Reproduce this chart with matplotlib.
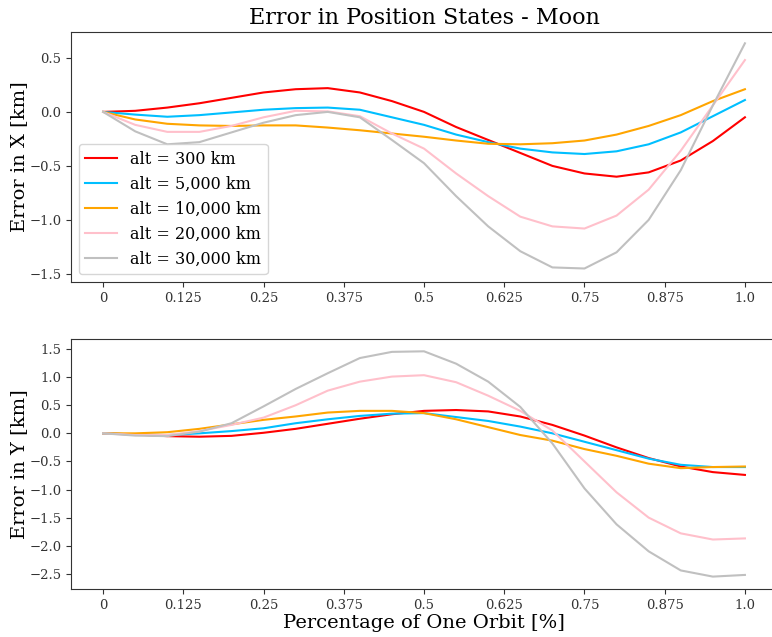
import numpy as np
import matplotlib
matplotlib.use('Agg')
import matplotlib.pyplot as plt

plt.rcParams['font.family'] = 'DejaVu Serif'

# fraction of one orbit
pct = [0, 0.05, 0.1, 0.15, 0.2, 0.25, 0.3, 0.35, 0.4, 0.45, 0.5,
       0.55, 0.6, 0.65, 0.7, 0.75, 0.8, 0.85, 0.9, 0.95, 1.0]

labels = ['alt = 300 km', 'alt = 5,000 km', 'alt = 10,000 km',
          'alt = 20,000 km', 'alt = 30,000 km']
colors = ['red', 'deepskyblue', 'orange', 'pink', 'silver']

# error in X [km]
err_x_300 = [0, 0.01, 0.04, 0.08, 0.13, 0.18, 0.21, 0.22, 0.18, 0.10, 0.0,
             -0.14, -0.26, -0.38, -0.5, -0.57, -0.6, -0.56, -0.45, -0.27, -0.05]
err_x_5000 = [0, -0.025, -0.045, -0.03, -0.005, 0.02, 0.035, 0.04, 0.02, -0.05, -0.12,
              -0.21, -0.28, -0.34, -0.375, -0.39, -0.365, -0.3, -0.19, -0.04, 0.11]
err_x_10000 = [0, -0.07, -0.11, -0.125, -0.13, -0.125, -0.125, -0.145, -0.17, -0.2, -0.23,
               -0.265, -0.295, -0.3, -0.29, -0.265, -0.21, -0.13, -0.03, 0.1, 0.21]
err_x_20000 = [0, -0.12, -0.185, -0.185, -0.13, -0.05, 0.01, 0.005, -0.04, -0.2, -0.34,
               -0.57, -0.78, -0.97, -1.06, -1.08, -0.96, -0.72, -0.36, 0.06, 0.48]
err_x_30000 = [0, -0.18, -0.3, -0.28, -0.19, -0.1, -0.03, 0.0, -0.05, -0.26, -0.475,
               -0.78, -1.06, -1.29, -1.44, -1.45, -1.3, -1.0, -0.54, 0.06, 0.635]

# error in Y [km]
err_y_300 = [0, -0.02, -0.05, -0.06, -0.045, 0.01, 0.08, 0.17, 0.26, 0.34, 0.40,
             0.415, 0.39, 0.3, 0.15, -0.04, -0.25, -0.44, -0.59, -0.69, -0.74]
err_y_5000 = [0, -0.02, -0.03, 0.0, 0.04, 0.09, 0.18, 0.25, 0.31, 0.35, 0.36,
              0.29, 0.22, 0.12, 0.0, -0.15, -0.3, -0.45, -0.56, -0.6, -0.6]
err_y_10000 = [0, 0.0, 0.02, 0.08, 0.16, 0.24, 0.3, 0.37, 0.40, 0.40, 0.36,
               0.25, 0.11, -0.03, -0.13, -0.28, -0.4, -0.54, -0.62, -0.6, -0.59]
err_y_20000 = [0, -0.03, -0.03, 0.04, 0.15, 0.28, 0.5, 0.76, 0.92, 1.01, 1.035,
               0.91, 0.67, 0.4, 0.05, -0.5, -1.05, -1.5, -1.78, -1.89, -1.87]
err_y_30000 = [0, -0.04, -0.05, 0.03, 0.18, 0.48, 0.79, 1.07, 1.34, 1.45, 1.46,
               1.24, 0.92, 0.47, -0.18, -0.98, -1.62, -2.1, -2.44, -2.55, -2.52]

err_x = [err_x_300, err_x_5000, err_x_10000, err_x_20000, err_x_30000]
err_y = [err_y_300, err_y_5000, err_y_10000, err_y_20000, err_y_30000]

xticks = [0, 0.125, 0.25, 0.375, 0.5, 0.625, 0.75, 0.875, 1.0]
xticklabels = ['0', '0.125', '0.25', '0.375', '0.5', '0.625', '0.75', '0.875', '1.0']

fig = plt.figure(figsize=(7.72, 6.37), dpi=100)
ax1 = fig.add_axes([0.092, 0.5573, 0.9145, 0.3925])
ax2 = fig.add_axes([0.092, 0.0754, 0.9145, 0.3925])

for ys, c, lab in zip(err_x, colors, labels):
    ax1.plot(pct, ys, color=c, lw=1.5, label=lab)
for ys, c, lab in zip(err_y, colors, labels):
    ax2.plot(pct, ys, color=c, lw=1.5, label=lab)

for ax in (ax1, ax2):
    ax.set_xticks(xticks)
    ax.set_xticklabels(xticklabels)
    ax.tick_params(labelsize=9.5, colors='#333333')
    for s in ax.spines.values():
        s.set_color('#333333')

ax1.set_ylim(-1.575, 0.74)
ax2.set_ylim(-2.77, 1.68)

ax1.set_title('Error in Position States - Moon', fontsize=16)
ax1.set_ylabel('Error in X [km]', fontsize=14, labelpad=1)
ax2.set_ylabel('Error in Y [km]', fontsize=14, labelpad=1)
ax2.set_xlabel('Percentage of One Orbit [%]', fontsize=14, labelpad=2)
ax1.legend(loc='lower left', fontsize=11.5)

fig.savefig('out.png', dpi=100)
